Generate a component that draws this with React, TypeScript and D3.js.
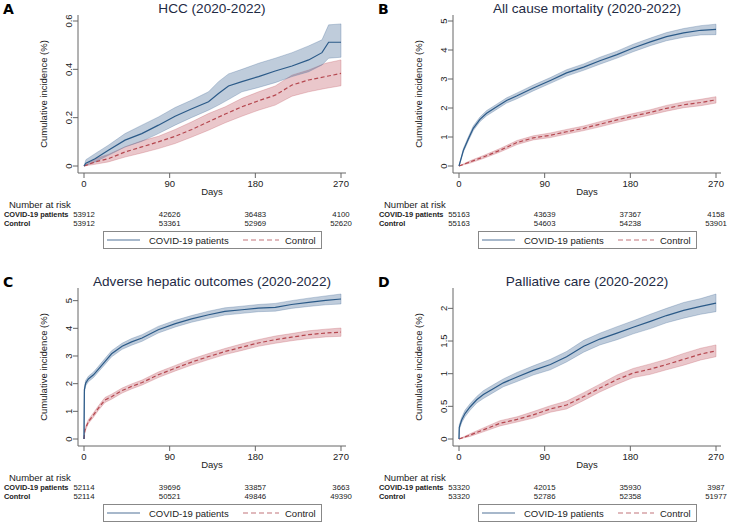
import React, { useEffect, useRef } from 'react';
import * as d3 from 'd3';

// [day, estimate, lower CI, upper CI]
type Pt = [number, number, number, number];

const DAY_TICKS = [0, 90, 180, 270];
const GROUPS = ['COVID-19 patients', 'Control'];

const hccCovid: Pt[] = [
  [0, 0, 0, 0], [2, 0.012, 0.002, 0.026], [11.6, 0.030, 0.017, 0.051], [25.6, 0.065, 0.044, 0.086],
  [43.1, 0.107, 0.079, 0.134], [60.7, 0.134, 0.102, 0.169], [78.2, 0.169, 0.134, 0.203],
  [95.7, 0.206, 0.169, 0.242], [113.3, 0.237, 0.201, 0.273], [130.8, 0.266, 0.231, 0.307],
  [141.3, 0.300, 0.252, 0.349], [151.8, 0.331, 0.275, 0.381], [165.9, 0.349, 0.307, 0.400],
  [183.4, 0.370, 0.325, 0.425], [200.9, 0.393, 0.345, 0.446], [218.5, 0.414, 0.370, 0.469],
  [236, 0.439, 0.390, 0.497], [250, 0.469, 0.418, 0.522], [257, 0.512, 0.446, 0.584],
  [270, 0.512, 0.450, 0.588],
];
const hccControl: Pt[] = [
  [0, 0, 0, 0], [11.6, 0.017, 0.007, 0.030], [25.6, 0.030, 0.017, 0.048], [43.1, 0.058, 0.037, 0.079],
  [60.7, 0.079, 0.054, 0.104], [78.2, 0.100, 0.072, 0.123], [95.7, 0.123, 0.093, 0.151],
  [113.3, 0.151, 0.120, 0.183], [130.8, 0.183, 0.148, 0.217], [148.4, 0.215, 0.179, 0.245],
  [165.9, 0.245, 0.206, 0.280], [183.4, 0.270, 0.231, 0.307], [200.9, 0.293, 0.252, 0.331],
  [218.5, 0.335, 0.289, 0.376], [236, 0.356, 0.307, 0.397], [253.6, 0.370, 0.321, 0.425],
  [270, 0.383, 0.332, 0.439],
];

const deathCovid: Pt[] = [
  [0, 0, 0, 0], [4.6, 0.54, 0.48, 0.60], [10, 0.95, 0.88, 1.02], [15, 1.30, 1.22, 1.38],
  [22, 1.61, 1.53, 1.69], [29, 1.82, 1.73, 1.91], [40, 2.05, 1.96, 2.14], [50, 2.26, 2.17, 2.35],
  [61, 2.42, 2.32, 2.52], [78, 2.69, 2.59, 2.79], [96, 2.95, 2.85, 3.05], [113, 3.21, 3.10, 3.32],
  [131, 3.41, 3.30, 3.52], [148, 3.63, 3.51, 3.75], [166, 3.84, 3.72, 3.96], [183, 4.07, 3.94, 4.20],
  [201, 4.28, 4.15, 4.41], [218, 4.46, 4.32, 4.60], [236, 4.59, 4.44, 4.74], [254, 4.68, 4.52, 4.84],
  [270, 4.71, 4.53, 4.89],
];
const deathControl: Pt[] = [
  [0, 0, 0, 0], [11.6, 0.14, 0.10, 0.18], [25.6, 0.31, 0.26, 0.36], [43, 0.54, 0.48, 0.60],
  [61, 0.81, 0.74, 0.88], [78, 0.97, 0.90, 1.04], [96, 1.06, 0.98, 1.14], [113, 1.18, 1.10, 1.26],
  [131, 1.30, 1.22, 1.38], [148, 1.44, 1.35, 1.53], [166, 1.59, 1.50, 1.68], [183, 1.72, 1.63, 1.81],
  [201, 1.85, 1.76, 1.94], [218, 1.99, 1.89, 2.09], [236, 2.11, 2.01, 2.21], [254, 2.19, 2.08, 2.30],
  [270, 2.28, 2.17, 2.39],
];

const hepCovid: Pt[] = [
  [0, 0, 0, 0], [0.4, 1.78, 1.68, 1.88], [1.8, 2.02, 1.92, 2.12], [4.6, 2.17, 2.07, 2.27],
  [10, 2.32, 2.22, 2.42], [15, 2.52, 2.42, 2.62], [22, 2.80, 2.69, 2.91], [29, 3.08, 2.97, 3.19],
  [40, 3.35, 3.24, 3.46], [50, 3.51, 3.39, 3.63], [61, 3.65, 3.53, 3.77], [78, 3.95, 3.83, 4.07],
  [96, 4.17, 4.05, 4.29], [113, 4.34, 4.22, 4.46], [131, 4.49, 4.36, 4.62], [148, 4.61, 4.48, 4.74],
  [166, 4.67, 4.54, 4.80], [183, 4.73, 4.60, 4.86], [201, 4.76, 4.62, 4.90], [218, 4.86, 4.72, 5.00],
  [236, 4.94, 4.79, 5.09], [254, 5.01, 4.85, 5.17], [270, 5.06, 4.88, 5.24],
];
const hepControl: Pt[] = [
  [0, 0, 0, 0], [1, 0.33, 0.27, 0.39], [4.6, 0.63, 0.56, 0.70], [10, 0.87, 0.79, 0.95],
  [15, 1.11, 1.03, 1.19], [22, 1.41, 1.32, 1.50], [29, 1.53, 1.44, 1.62], [40, 1.75, 1.66, 1.84],
  [50, 1.90, 1.81, 1.99], [61, 2.04, 1.95, 2.13], [78, 2.32, 2.22, 2.42], [96, 2.56, 2.46, 2.66],
  [113, 2.78, 2.67, 2.89], [131, 2.98, 2.87, 3.09], [148, 3.16, 3.05, 3.27], [166, 3.32, 3.20, 3.44],
  [183, 3.47, 3.35, 3.59], [201, 3.59, 3.46, 3.72], [218, 3.68, 3.55, 3.81], [236, 3.77, 3.63, 3.91],
  [254, 3.83, 3.69, 3.97], [270, 3.86, 3.71, 4.01],
];

const palCovid: Pt[] = [
  [0, 0, 0, 0], [0.3, 0.18, 0.14, 0.22], [2.8, 0.29, 0.25, 0.33], [6.3, 0.39, 0.34, 0.44],
  [11.6, 0.49, 0.44, 0.54], [18.6, 0.60, 0.55, 0.65], [25.6, 0.68, 0.62, 0.74], [36, 0.77, 0.71, 0.83],
  [46.6, 0.86, 0.80, 0.92], [61, 0.95, 0.88, 1.02], [78, 1.05, 0.98, 1.12], [96, 1.14, 1.06, 1.22],
  [113, 1.26, 1.18, 1.34], [131, 1.42, 1.33, 1.51], [148, 1.53, 1.44, 1.62], [166, 1.62, 1.52, 1.72],
  [183, 1.71, 1.61, 1.81], [201, 1.80, 1.69, 1.91], [218, 1.89, 1.78, 2.00], [236, 1.97, 1.85, 2.09],
  [254, 2.03, 1.91, 2.15], [270, 2.08, 1.95, 2.22],
];
const palControl: Pt[] = [
  [0, 0, 0, 0], [11.6, 0.06, 0.04, 0.08], [25.6, 0.14, 0.11, 0.17], [43, 0.24, 0.20, 0.28],
  [61, 0.30, 0.26, 0.34], [78, 0.37, 0.32, 0.42], [96, 0.46, 0.41, 0.51], [113, 0.52, 0.46, 0.58],
  [131, 0.65, 0.59, 0.71], [148, 0.78, 0.72, 0.84], [166, 0.91, 0.84, 0.98], [183, 1.01, 0.94, 1.08],
  [201, 1.07, 0.99, 1.15], [218, 1.14, 1.06, 1.22], [236, 1.22, 1.13, 1.31], [254, 1.30, 1.21, 1.39],
  [270, 1.35, 1.26, 1.44],
];

const hccRisk = [[53912, 42626, 36483, 4100], [53912, 53361, 52969, 52620]];
const deathRisk = [[55163, 43639, 37367, 4158], [55163, 54603, 54238, 53901]];
const hepRisk = [[52114, 39696, 33857, 3663], [52114, 50521, 49846, 49390]];
const palRisk = [[53320, 42015, 35930, 3987], [53320, 52786, 52358, 51977]];

const panels = [
  { letter: 'A', title: 'HCC (2020-2022)', ox: 0, oy: 0, yTicks: [0, 0.2, 0.4, 0.6], covid: hccCovid, control: hccControl, risk: hccRisk },
  { letter: 'B', title: 'All cause mortality (2020-2022)', ox: 375, oy: 0, yTicks: [0, 1, 2, 3, 4, 5], covid: deathCovid, control: deathControl, risk: deathRisk },
  { letter: 'C', title: 'Adverse hepatic outcomes (2020-2022)', ox: 0, oy: 273, yTicks: [0, 1, 2, 3, 4, 5], covid: hepCovid, control: hepControl, risk: hepRisk },
  { letter: 'D', title: 'Palliative care (2020-2022)', ox: 375, oy: 273, yTicks: [0, 0.5, 1, 1.5, 2], covid: palCovid, control: palControl, risk: palRisk },
];

const FONT = '"Liberation Sans", Arial, sans-serif';
const BLUE = '#2b5a88';
const RED = '#b5474f';
const AXIS = '#666';
const TEXT = '#222';

const App: React.FC = () => {
  const svgRef = useRef<SVGSVGElement>(null);

  useEffect(() => {
    if (!svgRef.current) return;
    const svg = d3.select(svgRef.current);
    svg.selectAll('*').remove();

    panels.forEach(p => {
      const g = svg.append('g').attr('transform', `translate(${p.ox}, ${p.oy})`);

      const yMax = Math.max(d3.max(p.yTicks)!, d3.max(p.covid, d => d[3])!, d3.max(p.control, d => d[3])!);
      const x = d3.scaleLinear().domain([0, 270]).range([84, 341]);
      const y = d3.scaleLinear().domain([0, yMax]).range([166, 21]);

      // panel letter + title
      g.append('text').attr('x', 3).attr('y', 14)
        .attr('font-family', '"DejaVu Sans", sans-serif').attr('font-weight', 'bold')
        .attr('font-size', '14px').attr('fill', '#000').text(p.letter);
      g.append('text').attr('x', 212).attr('y', 13).attr('text-anchor', 'middle')
        .attr('font-family', FONT).attr('font-size', '13.6px').attr('fill', '#1e2a44').text(p.title);

      // confidence bands
      const area = d3.area<Pt>().x(d => x(d[0])).y0(d => y(d[2])).y1(d => y(d[3]));
      g.append('path').datum(p.control).attr('d', area)
        .attr('fill', 'rgba(190,80,92,0.32)').attr('stroke', 'rgba(190,80,92,0.35)').attr('stroke-width', 0.8);
      g.append('path').datum(p.covid).attr('d', area)
        .attr('fill', 'rgba(60,100,145,0.33)').attr('stroke', 'rgba(60,100,145,0.35)').attr('stroke-width', 0.8);

      const line = d3.line<Pt>().x(d => x(d[0])).y(d => y(d[1]));
      g.append('path').datum(p.control).attr('d', line)
        .attr('fill', 'none').attr('stroke', RED).attr('stroke-width', 1.2).attr('stroke-dasharray', '4,2.5');
      g.append('path').datum(p.covid).attr('d', line)
        .attr('fill', 'none').attr('stroke', BLUE).attr('stroke-width', 1.2);

      // axes
      g.append('line').attr('x1', 78).attr('x2', 78).attr('y1', 15).attr('y2', 173)
        .attr('stroke', AXIS).attr('stroke-width', 1);
      g.append('line').attr('x1', 78).attr('x2', 346).attr('y1', 173).attr('y2', 173)
        .attr('stroke', AXIS).attr('stroke-width', 1);

      p.yTicks.forEach(t => {
        g.append('line').attr('x1', 73).attr('x2', 78).attr('y1', y(t)).attr('y2', y(t))
          .attr('stroke', AXIS);
        g.append('text').attr('transform', `translate(72, ${y(t)}) rotate(-90)`)
          .attr('text-anchor', 'middle').attr('font-family', FONT).attr('font-size', '9.5px')
          .attr('fill', TEXT).text(String(t));
      });
      g.append('text').attr('transform', `translate(47, 94) rotate(-90)`)
        .attr('text-anchor', 'middle').attr('font-family', FONT).attr('font-size', '9.5px')
        .attr('fill', TEXT).text('Cumulative incidence (%)');

      DAY_TICKS.forEach(t => {
        g.append('line').attr('x1', x(t)).attr('x2', x(t)).attr('y1', 173).attr('y2', 178)
          .attr('stroke', AXIS);
        g.append('text').attr('x', x(t)).attr('y', 187).attr('text-anchor', 'middle')
          .attr('font-family', FONT).attr('font-size', '9.5px').attr('fill', TEXT).text(String(t));
      });
      g.append('text').attr('x', 212).attr('y', 195).attr('text-anchor', 'middle')
        .attr('font-family', FONT).attr('font-size', '9.5px').attr('fill', TEXT).text('Days');

      // number at risk table
      g.append('text').attr('x', 9).attr('y', 208)
        .attr('font-family', FONT).attr('font-size', '9.5px').attr('fill', TEXT).text('Number at risk');
      GROUPS.forEach((name, i) => {
        const ry = 217 + i * 8.5;
        g.append('text').attr('x', 4).attr('y', ry)
          .attr('font-family', FONT).attr('font-size', '7.4px').attr('font-weight', 'bold')
          .attr('fill', TEXT).text(name);
        p.risk[i].forEach((n, j) => {
          g.append('text').attr('x', x(DAY_TICKS[j])).attr('y', ry).attr('text-anchor', 'middle')
            .attr('font-family', FONT).attr('font-size', '7.8px').attr('fill', TEXT).text(String(n));
        });
      });

      // legend
      g.append('rect').attr('x', 103.5).attr('y', 231.5).attr('width', 218).attr('height', 17)
        .attr('fill', '#fff').attr('stroke', '#888');
      g.append('line').attr('x1', 107).attr('x2', 140).attr('y1', 240).attr('y2', 240)
        .attr('stroke', '#8aa1ba').attr('stroke-width', 1.6);
      g.append('text').attr('x', 149).attr('y', 243.5)
        .attr('font-family', FONT).attr('font-size', '9.5px').attr('fill', TEXT).text(GROUPS[0]);
      g.append('line').attr('x1', 243).attr('x2', 279).attr('y1', 240).attr('y2', 240)
        .attr('stroke', '#d6a2a7').attr('stroke-width', 1.6).attr('stroke-dasharray', '5,3');
      g.append('text').attr('x', 285).attr('y', 243.5)
        .attr('font-family', FONT).attr('font-size', '9.5px').attr('fill', TEXT).text(GROUPS[1]);
    });
  }, []);

  return (
    <div style={{ position: 'fixed', left: 0, top: 0 }}>
      <svg ref={svgRef} width={734} height={525} style={{ display: 'block', background: '#fff' }} />
    </div>
  );
};

export default App;
